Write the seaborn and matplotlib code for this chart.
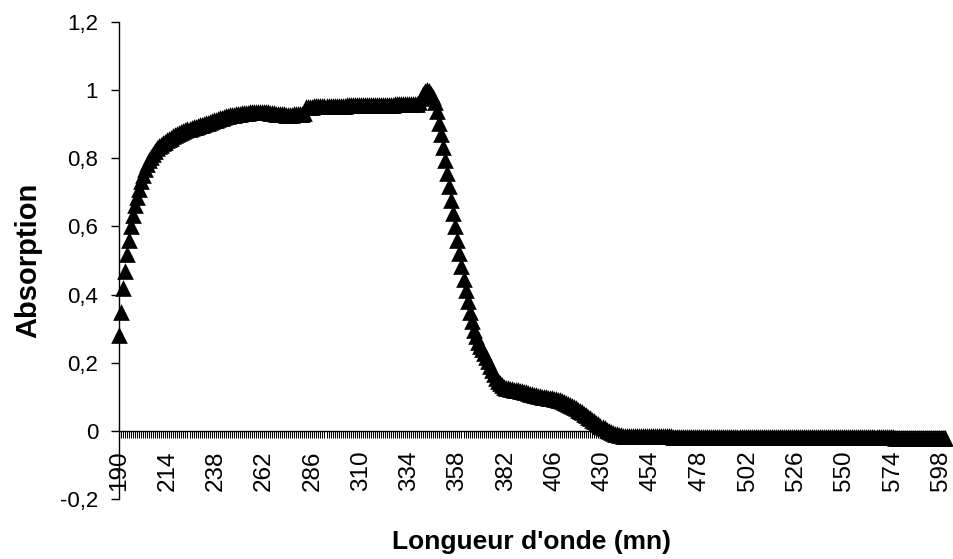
import matplotlib
matplotlib.use("Agg")
import matplotlib.pyplot as plt
import seaborn as sns
import pandas as pd

sns.set_theme(style="white")
plt.rcParams["font.family"] = ["Liberation Sans", "DejaVu Sans"]

# Spectrum sampled every 1 nm from 190 to 600 nm
wavelength = list(range(190, 601))
absorption = [
    # 190-199
    0.280, 0.350, 0.420, 0.470, 0.520, 0.560, 0.600, 0.633, 0.663, 0.687,
    # 200-209
    0.710, 0.733, 0.752, 0.768, 0.782, 0.794, 0.805, 0.814, 0.822, 0.829,
    # 210-219
    0.835, 0.840, 0.845, 0.849, 0.853, 0.857, 0.861, 0.864, 0.867, 0.870,
    # 220-229
    0.873, 0.876, 0.879, 0.882, 0.885, 0.887, 0.889, 0.891, 0.893, 0.895,
    # 230-239
    0.897, 0.899, 0.901, 0.903, 0.905, 0.907, 0.909, 0.911, 0.913, 0.915,
    # 240-249
    0.917, 0.919, 0.921, 0.923, 0.924, 0.926, 0.927, 0.928, 0.929, 0.930,
    # 250-259
    0.931, 0.932, 0.933, 0.934, 0.934, 0.935, 0.935, 0.936, 0.936, 0.936,
    # 260-269
    0.936, 0.936, 0.936, 0.935, 0.935, 0.934, 0.933, 0.932, 0.931, 0.930,
    # 270-279
    0.930, 0.929, 0.929, 0.928, 0.928, 0.928, 0.928, 0.929, 0.929, 0.930,
    # 280-289
    0.930, 0.931, 0.932, 0.950, 0.951, 0.951, 0.951, 0.952, 0.952, 0.952,
    # 290-299
    0.952, 0.952, 0.953, 0.953, 0.953, 0.953, 0.953, 0.954, 0.954, 0.954,
    # 300-309
    0.954, 0.954, 0.954, 0.955, 0.955, 0.955, 0.955, 0.955, 0.955, 0.955,
    # 310-319
    0.956, 0.956, 0.956, 0.956, 0.956, 0.956, 0.956, 0.956, 0.957, 0.957,
    # 320-329
    0.957, 0.957, 0.957, 0.957, 0.957, 0.957, 0.957, 0.958, 0.958, 0.958,
    # 330-339
    0.958, 0.958, 0.958, 0.958, 0.958, 0.958, 0.958, 0.959, 0.960, 0.965,
    # 340-349
    0.978, 0.990, 0.998, 1.000, 0.998, 0.990, 0.980, 0.965, 0.940, 0.905,
    # 350-359
    0.870, 0.833, 0.795, 0.757, 0.718, 0.679, 0.640, 0.600, 0.561, 0.522,
    # 360-369
    0.484, 0.447, 0.412, 0.380, 0.350, 0.322, 0.297, 0.277, 0.262, 0.250,
    # 370-379
    0.239, 0.228, 0.216, 0.204, 0.191, 0.178, 0.166, 0.155, 0.146, 0.139,
    # 380-389
    0.134, 0.130, 0.127, 0.125, 0.123, 0.122, 0.121, 0.120, 0.119, 0.118,
    # 390-399
    0.117, 0.115, 0.113, 0.111, 0.109, 0.107, 0.105, 0.104, 0.102, 0.101,
    # 400-409
    0.100, 0.099, 0.098, 0.097, 0.096, 0.095, 0.094, 0.093, 0.092, 0.090,
    # 410-419
    0.088, 0.086, 0.083, 0.080, 0.077, 0.074, 0.070, 0.066, 0.062, 0.058,
    # 420-429
    0.054, 0.050, 0.046, 0.042, 0.037, 0.033, 0.028, 0.024, 0.019, 0.015,
    # 430-439
    0.011, 0.007, 0.003, 0.000, -0.003, -0.006, -0.008, -0.010, -0.012, -0.013,
    # 440-449
    -0.014, -0.015, -0.015, -0.016, -0.016, -0.016, -0.016, -0.016, -0.016, -0.016,
    # 450-459
    -0.016, -0.016, -0.016, -0.016, -0.016, -0.016, -0.016, -0.016, -0.016, -0.016,
    # 460-469
    -0.016, -0.016, -0.016, -0.016, -0.016, -0.017, -0.017, -0.017, -0.017, -0.017,
    # 470-479
    -0.017, -0.017, -0.017, -0.017, -0.017, -0.017, -0.017, -0.017, -0.017, -0.017,
    # 480-489
    -0.017, -0.017, -0.017, -0.017, -0.017, -0.017, -0.017, -0.017, -0.017, -0.017,
    # 490-499
    -0.017, -0.017, -0.017, -0.017, -0.017, -0.017, -0.017, -0.017, -0.017, -0.017,
    # 500-509
    -0.017, -0.017, -0.017, -0.017, -0.017, -0.018, -0.018, -0.018, -0.018, -0.018,
    # 510-519
    -0.018, -0.018, -0.018, -0.018, -0.018, -0.018, -0.018, -0.018, -0.018, -0.018,
    # 520-529
    -0.018, -0.018, -0.018, -0.018, -0.018, -0.018, -0.018, -0.018, -0.018, -0.018,
    # 530-539
    -0.018, -0.018, -0.018, -0.018, -0.018, -0.018, -0.018, -0.018, -0.018, -0.018,
    # 540-549
    -0.018, -0.018, -0.018, -0.018, -0.018, -0.019, -0.019, -0.019, -0.019, -0.019,
    # 550-559
    -0.019, -0.019, -0.019, -0.019, -0.019, -0.019, -0.019, -0.019, -0.019, -0.019,
    # 560-569
    -0.019, -0.019, -0.019, -0.019, -0.019, -0.019, -0.019, -0.019, -0.019, -0.019,
    # 570-579
    -0.019, -0.019, -0.019, -0.019, -0.019, -0.020, -0.020, -0.020, -0.020, -0.020,
    # 580-589
    -0.020, -0.020, -0.020, -0.020, -0.020, -0.020, -0.020, -0.020, -0.020, -0.020,
    # 590-599
    -0.020, -0.020, -0.020, -0.020, -0.020, -0.020, -0.020, -0.020, -0.020, -0.020,
    # 600
    -0.020,
]

x_tick_values = list(range(190, 599, 24))
y_tick_values = [-0.2, 0.0, 0.2, 0.4, 0.6, 0.8, 1.0, 1.2]
y_tick_labels = ["-0,2", "0", "0,2", "0,4", "0,6", "0,8", "1", "1,2"]

spectrum = pd.DataFrame({"wavelength": wavelength, "absorption": absorption})

fig = plt.figure(figsize=(9.54, 5.59), dpi=100)
ax = fig.add_axes([119 / 954, 60 / 559, 826 / 954, 477 / 559])

sns.scatterplot(
    data=spectrum, x="wavelength", y="absorption", ax=ax,
    marker="^", s=144, color="black", edgecolor="black", linewidth=0,
    clip_on=False, zorder=3, legend=False,
)

ax.set_xlim(190, 600)
ax.set_ylim(-0.2, 1.2)

# Category-style axis: horizontal axis line sits at zero
for side in ("top", "right"):
    ax.spines[side].set_visible(False)
ax.spines["bottom"].set_position(("data", 0))
for side in ("left", "bottom"):
    ax.spines[side].set_color("black")
    ax.spines[side].set_linewidth(1.0)

ax.set_xticks(x_tick_values)
ax.set_xticks(wavelength, minor=True)
ax.set_xticklabels([str(v) for v in x_tick_values], rotation=90)
ax.tick_params(axis="x", which="both", bottom=True, direction="out",
               length=5, width=0.75, color="black")
ax.tick_params(axis="x", which="major", labelsize=17.5, pad=9, labelcolor="black")

ax.set_yticks(y_tick_values)
ax.set_yticklabels(y_tick_labels)
ax.tick_params(axis="y", which="major", left=True, direction="out",
               length=6, width=1.0, color="black", labelsize=16, pad=9,
               labelcolor="black")

ax.set_xlabel("Longueur d'onde (mn)", fontsize=19, fontweight="bold", color="black")
ax.set_ylabel("Absorption", fontsize=21, fontweight="bold", color="black")
ax.xaxis.set_label_coords(0.5, -0.064)
ax.yaxis.set_label_coords(-0.093, 0.5)

fig.savefig("out.png", dpi=100)
